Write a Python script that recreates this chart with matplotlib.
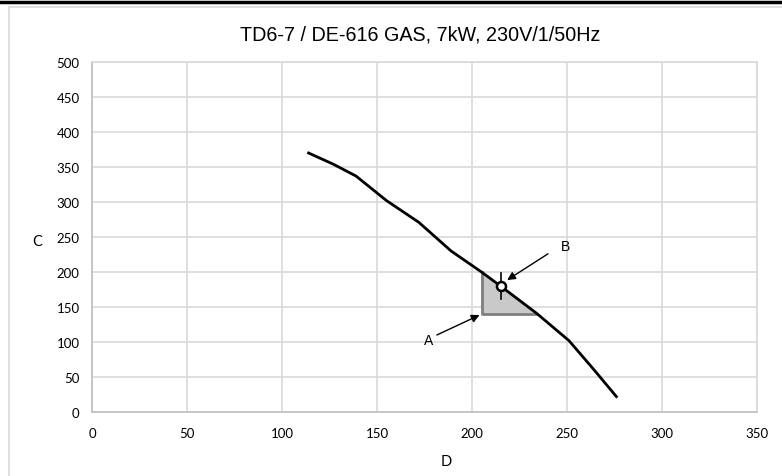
import matplotlib
matplotlib.use("Agg")
import matplotlib.pyplot as plt
from matplotlib.lines import Line2D
import numpy as np

# Data
curve_x = [114, 127, 139, 155, 172, 189, 205, 215, 234, 251, 264, 276]
curve_y = [370, 354, 337, 302, 271, 230, 200, 180, 141, 102, 61, 22]
point_b = (215, 180)
b_range = (161, 199)
area_x_left = 205
area_x_right = 234
area_y_bottom = 140
x_ticks = [0, 50, 100, 150, 200, 250, 300, 350]
y_ticks = [0, 50, 100, 150, 200, 250, 300, 350, 400, 450, 500]
title = "TD6-7 / DE-616 GAS, 7kW, 230V/1/50Hz"

fig = plt.figure(figsize=(7.82, 4.77), dpi=100)
ax = fig.add_axes([92/782, 1-413/477, (757-92)/782, (413-63)/477])

grid_c = "#d9d9d9"
ax.set_xlim(0, 350)
ax.set_ylim(0, 500)
ax.set_xticks(x_ticks)
ax.set_yticks(y_ticks)
ax.grid(True, color=grid_c, linewidth=1.2)
ax.set_axisbelow(True)
for s in ax.spines.values():
    s.set_color(grid_c)
    s.set_linewidth(1.2)
ax.spines["left"].set_color("#bfbfbf")
ax.spines["bottom"].set_color("#bfbfbf")
ax.tick_params(length=0, labelsize=9.5, colors="#000000")
ax.tick_params(axis="x", pad=11)
ax.tick_params(axis="y", pad=9)
for lab in ax.get_xticklabels() + ax.get_yticklabels():
    lab.set_fontfamily("Lato")

# shaded area
cx = np.array(curve_x, dtype=float)
cy = np.array(curve_y, dtype=float)
mask = (cx >= area_x_left) & (cx <= area_x_right)
poly_x = [area_x_left] + list(cx[mask]) + [area_x_right, area_x_left]
poly_y = [np.interp(area_x_left, cx, cy)] + list(cy[mask]) + [area_y_bottom, area_y_bottom]
ax.fill(poly_x, poly_y, facecolor="#c9c9c9", edgecolor="none", zorder=2)
ax.plot([area_x_left, area_x_left, area_x_right],
        [np.interp(area_x_left, cx, cy), area_y_bottom, area_y_bottom],
        color="#7f7f7f", linewidth=2, zorder=3)

# curve
ax.plot(curve_x, curve_y, color="black", linewidth=2, zorder=4)

# point B
ax.plot([point_b[0], point_b[0]], list(b_range), color="black", linewidth=1.2, zorder=5)
ax.plot([point_b[0]], [point_b[1]], marker="o", markersize=6.5, markerfacecolor="white",
        markeredgecolor="black", markeredgewidth=1.8, zorder=6)

arrow = dict(arrowstyle="-|>", color="black", lw=1.0, mutation_scale=12, shrinkA=0, shrinkB=0)
ax.annotate("", xy=(218.5, 188.5), xytext=(240, 226), arrowprops=arrow, zorder=7)
ax.text(249, 237, "B", fontsize=10, fontfamily="Liberation Sans", ha="center", va="center")
ax.annotate("", xy=(204, 138.5), xytext=(181.5, 110), arrowprops=arrow, zorder=7)
ax.text(177, 103, "A", fontsize=10, fontfamily="Liberation Sans", ha="center", va="center")

ax.set_xlabel("D", fontsize=10.5, fontfamily="Lato", va="center")
ax.set_ylabel("C", fontsize=10.5, fontfamily="Lato", rotation=0, va="center", ha="center")
ax.xaxis.set_label_coords((446-92)/665, (413-462.5)/350)
ax.yaxis.set_label_coords((37-92)/665, (413-242.5)/350)

fig.text(420/782, 1-35/477, title, fontsize=14.2, fontfamily="Liberation Sans",
         ha="center", va="center")

# frame lines
fig.add_artist(Line2D([0, 1], [1-2.5/477, 1-2.5/477], color="black", linewidth=2.5,
                      transform=fig.transFigure))
fig.add_artist(Line2D([8.5/782, 1], [1-7.5/477, 1-7.5/477], color="#d9d9d9", linewidth=1.2,
                      transform=fig.transFigure))
fig.add_artist(Line2D([8.5/782, 8.5/782], [0, 1-7.5/477], color="#d9d9d9", linewidth=1.2,
                      transform=fig.transFigure))

fig.savefig("out.png", dpi=100)
